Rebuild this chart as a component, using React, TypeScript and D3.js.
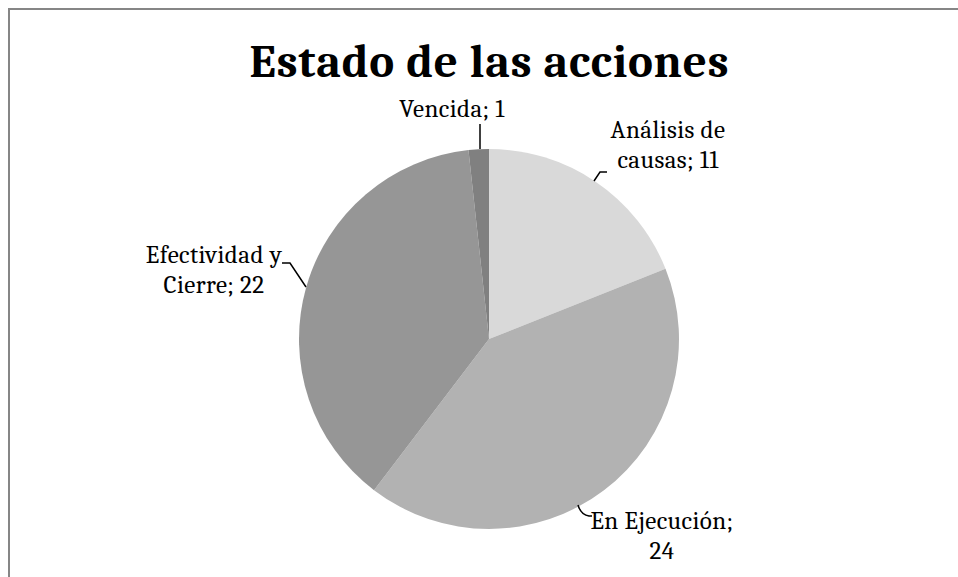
import React from "react";
import * as d3 from "d3";

const categories = ["Análisis de causas", "En Ejecución", "Efectividad y Cierre", "Vencida"];
const values = [11, 24, 22, 1];
const labelLines = [
  ["Análisis de", "causas; 11"],
  ["En Ejecución;", "24"],
  ["Efectividad y", "Cierre; 22"],
  ["Vencida; 1"],
];
const colors = ["#d9d9d9", "#b2b2b2", "#969696", "#808080"];

const W = 958, H = 577;
const cx = 489, cy = 339, R = 190;
const FONT = "Cambria, Caladea, 'Liberation Serif', 'DejaVu Serif', serif";

const labelLayout = [
  { x: 668, y: 138, leader: "M594,181 L600,172 L607,172" },
  { x: 662, y: 529, leader: "M578,505 Q581,515 589,516 L592,516" },
  { x: 214, y: 263, leader: "M306,287 L290,263 L282,263" },
  { x: 452, y: 117, leader: "M480,149 L480,124" },
];

export default function App() {
  const pie = d3.pie<number>().sort(null).value((d) => d);
  const arcs = pie(values);
  const arc = d3.arc<d3.PieArcDatum<number>>().innerRadius(0).outerRadius(R);
  return (
    <svg width={W} height={H} style={{ position: "absolute", left: 0, top: 0, display: "block" }}>
      <rect x={0} y={0} width={W} height={H} fill="#ffffff" />
      <rect x={9} y={9} width={W + 20} height={H + 20} fill="#ffffff" stroke="#868686" strokeWidth={2} />
      <text x={489.5} y={77} textAnchor="middle" fontFamily={FONT} fontWeight="bold" fontSize={47} letterSpacing={0.8} fill="#000">
        Estado de las acciones
      </text>
      <g transform={`translate(${cx},${cy})`}>
        {arcs.map((a, i) => (
          <path key={categories[i]} d={arc(a) || ""} fill={colors[i]} />
        ))}
      </g>
      {labelLayout.map((l, i) => (
        <g key={i}>
          <path d={l.leader} fill="none" stroke="#000" strokeWidth={1.5} />
          <text x={l.x} y={l.y} textAnchor="middle" fontFamily={FONT} fontSize={25} letterSpacing={0.4} fill="#000">
            {labelLines[i].map((t, j) => (
              <tspan key={j} x={l.x} y={l.y + j * 30}>{t}</tspan>
            ))}
          </text>
        </g>
      ))}
    </svg>
  );
}
